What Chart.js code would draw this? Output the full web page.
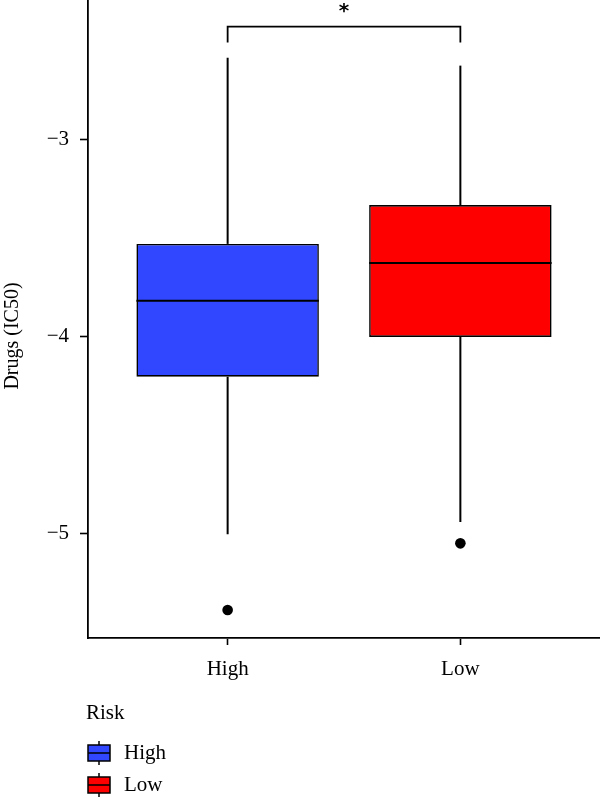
<!DOCTYPE html>
<html>
<head>
<meta charset="utf-8">
<script src="https://cdn.jsdelivr.net/npm/chart.js@4"></script>
<style>
  html,body{margin:0;padding:0;background:#fff;}
  #wrap{position:relative;width:600px;height:798px;}
</style>
</head>
<body>
<div id="wrap"><canvas id="c" width="600" height="798"></canvas></div>
<script>
// ---- data ----
const categories = ['High', 'Low'];
const boxColors = ['#3147FF', '#FF0000'];
const q1 = [-4.205, -4.003];
const median = [-3.819, -3.628];
const q3 = [-3.531, -3.334];
const whiskerLow = [-5.005, -4.943];
const whiskerHigh = [-2.586, -2.626];
const outliers = [[-5.389], [-5.051]];
const yTicks = [-5, -4, -3];
const legendTitle = 'Risk';
const yTitle = 'Drugs (IC50)';
const sigLabel = '*';
const sigLevels = [-2.509, -2.428]; // bracket tick bottom, bracket top
const sigPair = [1, 2];

// ---- styling ----
const FONT = "'Liberation Serif', serif";
const BOX_WIDTH = 0.784;
const LW = 1.6;

const datasets = [];
// medians (on top)
categories.forEach((c, i) => {
  datasets.push({
    type: 'line', order: 0,
    data: [{x: i + 1 - BOX_WIDTH / 2, y: median[i]}, {x: i + 1 + BOX_WIDTH / 2, y: median[i]}],
    borderColor: '#000', borderWidth: LW + 0.4, pointRadius: 0, fill: false
  });
});
// boxes
datasets.push({
  type: 'bar', order: 1,
  label: 'Risk',
  data: categories.map((c, i) => ({x: i + 1, y: [q1[i], q3[i]]})),
  backgroundColor: boxColors,
  borderColor: '#000', borderWidth: LW, borderSkipped: false,
  barPercentage: BOX_WIDTH, categoryPercentage: 1
});
// whiskers
categories.forEach((c, i) => {
  datasets.push({
    type: 'line', order: 2,
    data: [{x: i + 1, y: q3[i]}, {x: i + 1, y: whiskerHigh[i]}],
    borderColor: '#000', borderWidth: LW + 0.4, pointRadius: 0, fill: false
  });
  datasets.push({
    type: 'line', order: 2,
    data: [{x: i + 1, y: q1[i]}, {x: i + 1, y: whiskerLow[i]}],
    borderColor: '#000', borderWidth: LW + 0.4, pointRadius: 0, fill: false
  });
});
// outliers
datasets.push({
  type: 'scatter', order: 0,
  data: categories.flatMap((c, i) => outliers[i].map(v => ({x: i + 1, y: v}))),
  backgroundColor: '#000', borderColor: '#000', pointRadius: 5.3, pointBorderWidth: 0, showLine: false
});
// significance bracket
datasets.push({
  type: 'line', order: 0,
  data: [{x: sigPair[0], y: sigLevels[0]}, {x: sigPair[0], y: sigLevels[1]},
         {x: sigPair[1], y: sigLevels[1]}, {x: sigPair[1], y: sigLevels[0]}],
  borderColor: '#000', borderWidth: LW + 0.2, pointRadius: 0, fill: false, tension: 0
});

const extras = {
  id: 'extras',
  afterDraw(chart) {
    const ctx = chart.ctx;
    const xs = chart.scales.x, ys = chart.scales.y;
    ctx.save();
    // significance label
    ctx.fillStyle = '#000';
    ctx.font = "bold 20px 'DejaVu Sans', sans-serif";
    ctx.textAlign = 'center';
    ctx.textBaseline = 'middle';
    ctx.fillText(sigLabel, xs.getPixelForValue((sigPair[0] + sigPair[1]) / 2), ys.getPixelForValue(sigLevels[1]) - 15);
    // y-axis title
    ctx.save();
    ctx.translate(13, 336);
    ctx.rotate(-Math.PI / 2);
    ctx.font = '20px ' + FONT;
    ctx.textAlign = 'center';
    ctx.textBaseline = 'middle';
    ctx.fillText(yTitle, 0, 0);
    ctx.restore();
    // legend
    ctx.font = '21px ' + FONT;
    ctx.textAlign = 'left';
    ctx.textBaseline = 'middle';
    ctx.fillText(legendTitle, 86, 713);
    categories.forEach((c, i) => {
      const top = 745 + i * 32, h = 16, left = 88, w = 22, cx = left + w / 2;
      ctx.strokeStyle = '#000';
      ctx.lineWidth = 1.5;
      ctx.beginPath();
      ctx.moveTo(cx, top - 4); ctx.lineTo(cx, top + h + 4); ctx.stroke();
      ctx.fillStyle = boxColors[i];
      ctx.fillRect(left, top, w, h);
      ctx.strokeRect(left, top, w, h);
      ctx.beginPath();
      ctx.moveTo(left, top + h / 2); ctx.lineTo(left + w, top + h / 2); ctx.stroke();
      ctx.fillStyle = '#000';
      ctx.fillText(c, 124, top + h / 2);
    });
    ctx.restore();
  }
};

function noPad(s) { s.paddingTop = 0; s.paddingBottom = 0; s.paddingLeft = 0; s.paddingRight = 0; }

new Chart(document.getElementById('c'), {
  type: 'bar',
  data: {datasets},
  options: {
    responsive: false,
    animation: false,
    devicePixelRatio: 1,
    layout: {padding: 0, autoPadding: false},
    plugins: {legend: {display: false}, tooltip: {enabled: false}},
    scales: {
      x: {
        type: 'linear', position: 'bottom', min: 0.4, max: 2.6, offset: false,
        afterBuildTicks: s => { s.ticks = categories.map((c, i) => ({value: i + 1})); },
        afterFit: s => { s.height = 160; noPad(s); },
        ticks: {
          autoSkip: false, color: '#000', padding: 12,
          font: {family: FONT, size: 21},
          callback: v => categories[Math.round(v) - 1]
        },
        grid: {offset: false, drawOnChartArea: false, drawTicks: true, tickLength: 7, tickColor: '#000', tickWidth: 1.6},
        border: {display: true, color: '#000', width: 1.8}
      },
      y: {
        type: 'linear', min: -5.5315, max: -2.2929,
        afterBuildTicks: s => { s.ticks = yTicks.map(v => ({value: v})); },
        afterFit: s => { s.width = 88; noPad(s); },
        ticks: {
          color: '#000', padding: 11,
          font: {family: FONT, size: 21},
          callback: v => (v < 0 ? '\u2212' : '') + Math.abs(v)
        },
        grid: {offset: false, drawOnChartArea: false, drawTicks: true, tickLength: 8, tickColor: '#000', tickWidth: 1.6},
        border: {display: true, color: '#000', width: 1.8}
      }
    }
  },
  plugins: [extras]
});
</script>
</body>
</html>
